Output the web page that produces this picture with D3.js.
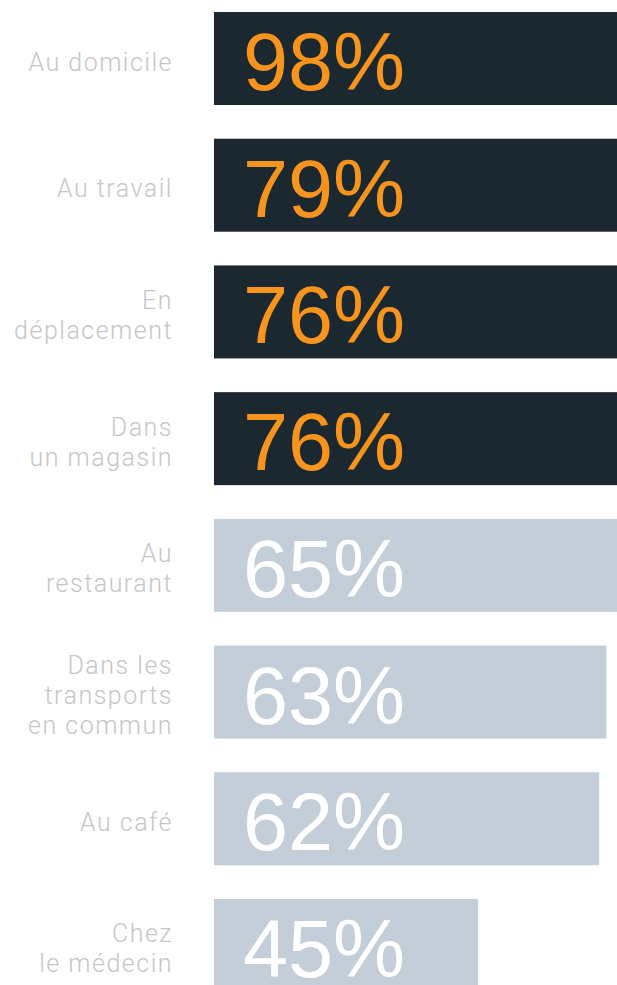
<!DOCTYPE html>
<html>
<head>
<meta charset="utf-8">
<script src="https://cdn.jsdelivr.net/npm/d3@7"></script>
<style>
  body { margin: 0; background: #ffffff; }
  svg { display: block; }
</style>
</head>
<body>
<div id="chart"></div>
<script>
var width = 617;
var height = 985;

// data
var places = [
    ["Au domicile"],
    ["Au travail"],
    ["En", "déplacement"],
    ["Dans", "un magasin"],
    ["Au", "restaurant"],
    ["Dans les", "transports", "en commun"],
    ["Au café"],
    ["Chez", "le médecin"]
];
var shares = [98, 79, 76, 76, 65, 63, 62, 45];

var rows = places.map(function(p, i) {
    return { id: i, lines: p, value: shares[i] };
});

var barLeft = 214;
var labelRight = 173;
var xMin = 7.9;

var svg = d3.select("#chart")
    .append("svg")
    .attr("width", width)
    .attr("height", height);

// bars start at the domain minimum, not at zero (as in the original graphic)
var x = d3.scaleLinear().domain([xMin, 100]).range([barLeft, barLeft + (100 - xMin) * 7.12]);

var y = d3.scaleBand()
    .domain(rows.map(function(d) { return d.id; }))
    .range([12, 992])
    .paddingInner(0.266)
    .paddingOuter(0);

var isTop = function(d) { return d.value >= 70; };

var row = svg.selectAll(".row")
    .data(rows)
    .enter().append("g")
    .attr("class", "row")
    .attr("transform", function(d) { return "translate(0," + y(d.id) + ")"; });

row.append("rect")
    .attr("x", x(xMin))
    .attr("y", 0)
    .attr("width", function(d) { return x(d.value) - x(xMin); })
    .attr("height", y.bandwidth())
    .attr("fill", function(d) { return isTop(d) ? "#1b2830" : "#c4ced8"; });

row.append("text")
    .attr("x", x(xMin) + 29)
    .attr("y", 78)
    .text(function(d) { return d.value + "%"; })
    .style("font-family", "'Liberation Sans', Arial, sans-serif")
    .style("font-size", "81px")
    .style("fill", function(d) { return isTop(d) ? "#f7941d" : "#ffffff"; });

var lineH = 30;
row.append("text")
    .attr("text-anchor", "end")
    .style("font-family", "Roboto, 'Liberation Sans', sans-serif")
    .style("font-weight", "300")
    .style("font-size", "25px")
    .style("letter-spacing", "1.5px")
    .style("fill", "#c6c6c6")
    .selectAll("tspan")
    .data(function(d) {
        return d.lines.map(function(t, i) { return { t: t, i: i, n: d.lines.length }; });
    })
    .enter().append("tspan")
    .attr("x", labelRight)
    .attr("y", function(l) {
        return y.bandwidth() / 2 + 12 + (l.i - (l.n - 1) / 2) * lineH;
    })
    .text(function(l) { return l.t; });
</script>
</body>
</html>
